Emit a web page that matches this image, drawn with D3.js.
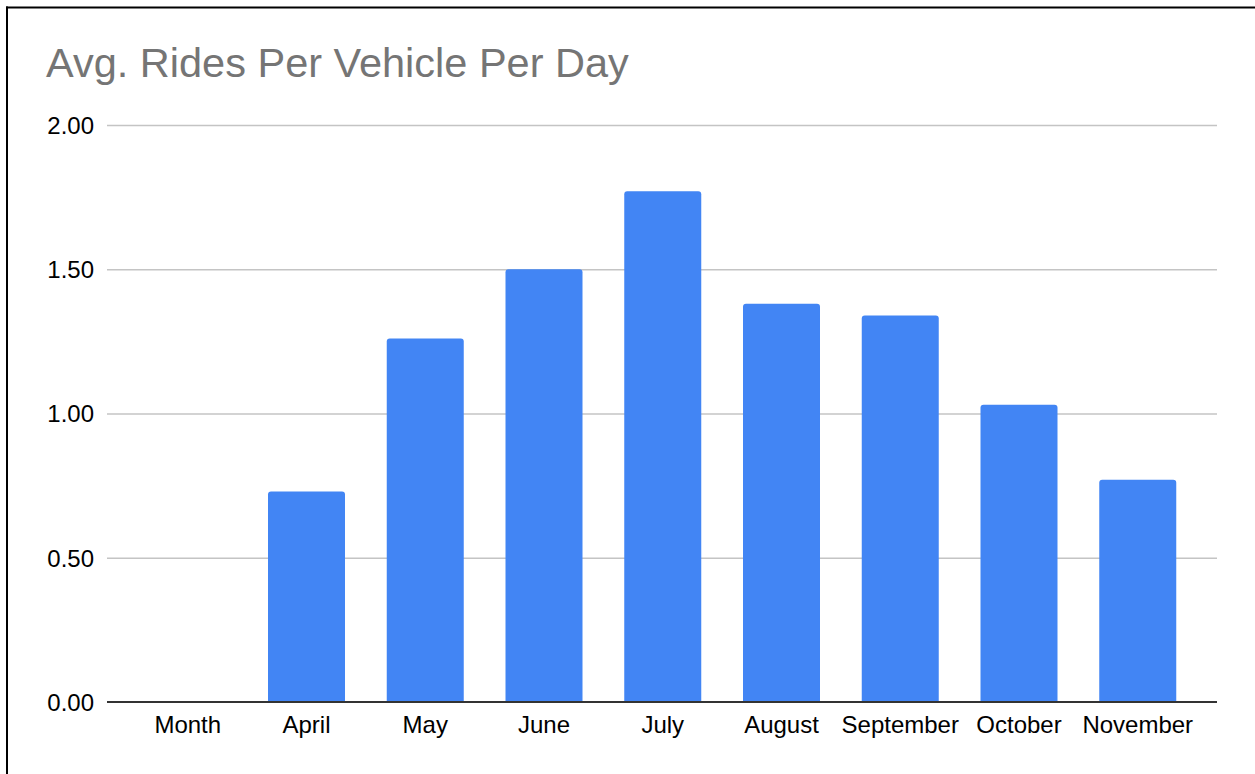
<!DOCTYPE html>
<meta charset="utf-8">
<script src="https://d3js.org/d3.v7.min.js"></script>
<style>
  body { margin: 0; background: #fff; }
  svg { display: block; font-family: "Liberation Sans", Arial, sans-serif; }
</style>
<div id="my_dataviz"></div>
<script>

// data
var months = ["Month", "April", "May", "June", "July", "August", "September", "October", "November"];
var rides = [null, 0.73, 1.26, 1.50, 1.77, 1.38, 1.34, 1.03, 0.77];
var yTicks = [0, 0.5, 1.0, 1.5, 2.0];
var chartTitle = "Avg. Rides Per Vehicle Per Day";

var W = 1255, H = 774;
var plot = {left: 107, right: 1217, top: 125, bottom: 702};

var svg = d3.select("#my_dataviz")
  .append("svg")
    .attr("width", W)
    .attr("height", H);

// frame lines (top and left only)
svg.append("line")
  .attr("x1", 6).attr("x2", W).attr("y1", 7.5).attr("y2", 7.5)
  .attr("stroke", "#000").attr("stroke-width", 2);
svg.append("line")
  .attr("x1", 7).attr("x2", 7).attr("y1", 6.5).attr("y2", H)
  .attr("stroke", "#000").attr("stroke-width", 2);

// title
svg.append("text")
  .attr("x", 46)
  .attr("y", 77)
  .attr("fill", "#757575")
  .style("font-size", "41.5px")
  .text(chartTitle);

// scales
var step = 118.75;
var x = d3.scaleBand()
  .domain(months)
  .range([187.75 - step / 2, 187.75 - step / 2 + step * months.length])
  .paddingInner(1 - 77 / step)
  .paddingOuter((1 - 77 / step) / 2);

var y = d3.scaleLinear()
  .domain([0, 2])
  .range([plot.bottom, plot.top]);

// gridlines + y labels
var yAxis = d3.axisLeft(y)
  .tickValues(yTicks)
  .tickSize(-(plot.right - plot.left))
  .tickPadding(13)
  .tickFormat(d3.format(".2f"));

var gy = svg.append("g")
  .attr("transform", "translate(" + plot.left + ",0)")
  .call(yAxis);
gy.select(".domain").remove();
gy.selectAll(".tick line")
  .attr("stroke", "#c4c4c4")
  .attr("stroke-width", 1.3)
  .filter(function(d) { return d === 0; }).remove();
gy.selectAll(".tick text")
  .attr("fill", "#000")
  .style("font-size", "24px")
  .attr("dy", "0.35em");

// bars
svg.append("g")
  .selectAll("path")
  .data(months.map(function(m, i) { return {month: m, value: rides[i]}; })
    .filter(function(d) { return d.value != null; }))
  .enter()
  .append("path")
    .attr("fill", "#4285f4")
    .attr("d", function(d) {
      var x0 = x(d.month), w = x.bandwidth(), y0 = y(d.value), yb = y(0), r = 3;
      return "M" + x0 + "," + yb +
        "V" + (y0 + r) +
        "Q" + x0 + "," + y0 + " " + (x0 + r) + "," + y0 +
        "H" + (x0 + w - r) +
        "Q" + (x0 + w) + "," + y0 + " " + (x0 + w) + "," + (y0 + r) +
        "V" + yb + "Z";
    });

// baseline
svg.append("line")
  .attr("x1", plot.left).attr("x2", plot.right)
  .attr("y1", y(0)).attr("y2", y(0))
  .attr("stroke", "#333").attr("stroke-width", 2);

// x labels
var xAxis = d3.axisBottom(x).tickSize(0).tickPadding(14);
var gx = svg.append("g")
  .attr("transform", "translate(0," + y(0) + ")")
  .call(xAxis);
gx.select(".domain").remove();
gx.selectAll(".tick text")
  .attr("fill", "#000")
  .style("font-size", "24px");

</script>
